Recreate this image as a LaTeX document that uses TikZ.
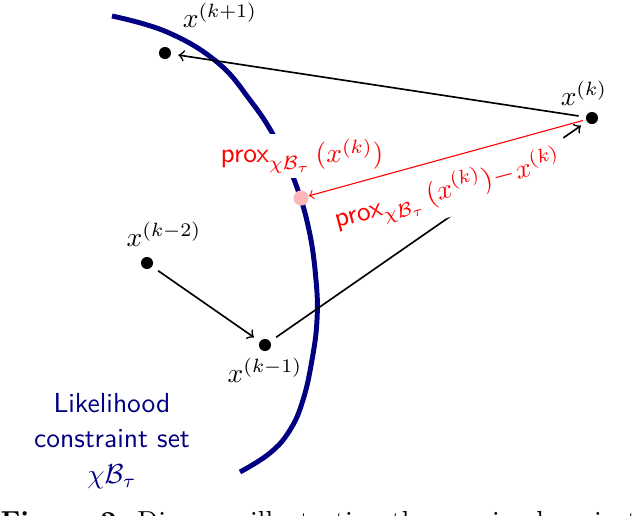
\documentclass[tikz,border=0pt]{standalone}
\usepackage{amsmath}
\begin{document}
\begin{tikzpicture}[x=0.3636pt,y=-0.3636pt,
  dot/.style={circle,fill=black,inner sep=0pt,minimum size=4.4pt},
  lab/.style={inner sep=1pt},
  conn/.style={semithick,->,shorten <=2.5pt,shorten >=2.5pt},
  redlab/.style={text=red,fill=white,inner sep=3pt},
  setcurve/.style={draw=navy,line width=1.8pt}]
\definecolor{navy}{rgb}{0,0,0.5}
\useasboundingbox (0,0) rectangle (640,516);
\clip (0,0) rectangle (640,516);
% constraint boundary
\draw[setcurve] plot[smooth,tension=0.7] coordinates {(112,16) (167,32) (217,62) (250,100) (275,138) (295,182) (309,230) (316,280) (317,320) (312,360) (303,400) (290,430) (270,453) (240,472)};
% points
\node[dot] (k1) at (165,53) {};
\node[dot] (k) at (592,118) {};
\node[dot] (km2) at (147,263) {};
\node[dot] (km1) at (265,345) {};
\node[circle,fill=red!28,inner sep=0pt,minimum size=5.5pt] (p) at (301,198) {};
% labels
\node[lab] at (220,15) {$x^{(k+1)}$};
\node[lab] at (584,93) {$x^{(k)}$};
\node[lab] at (164,234) {$x^{(k-2)}$};
\node[lab] at (265,370) {$x^{(k-1)}$};
% black connectors
\draw[conn] (k) -- (k1);
\draw[conn] (km2) -- (km1);
\draw[conn] (km1) -- (k);
% red labels
\node[redlab,inner sep=1.5pt] at (302,156) {$\mathsf{prox}_{\chi\mathcal{B}_\tau}\,(x^{(k)})$};
\node[redlab,rotate=15] at (448,191) {$\mathsf{prox}_{\chi\mathcal{B}_\tau}\,(x^{(k)})\!-\!x^{(k)}$};
% red arrow
\draw[red,->,shorten <=1pt,shorten >=0pt] (k) -- (p);
% set label
\node[text=navy,font=\sffamily,align=center] (set) at (112,441) {Likelihood\\[1pt]constraint set\\[1pt]$\chi\mathcal{B}_\tau$};
% clipped caption
\node[anchor=base west,inner sep=0pt] (cap) at (0,530) {\textbf{Figure 2:} Diagram illustrating the proximal projected gradient descent};
\end{tikzpicture}
\end{document}
